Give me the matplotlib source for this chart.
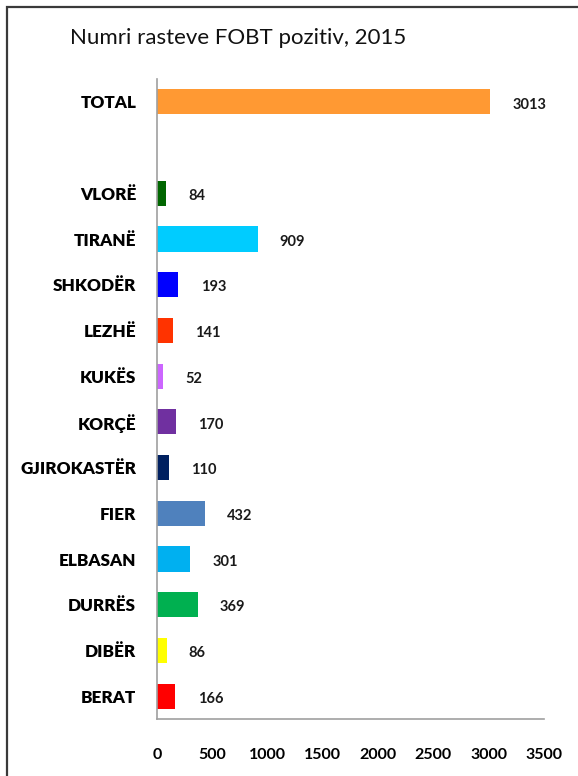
import matplotlib.pyplot as plt
from matplotlib.patches import Rectangle

plt.rcParams['font.family'] = ['Lato', 'DejaVu Sans']

# FOBT positive cases by region, 2015 (listed top to bottom)
regions = ['VLORË', 'TIRANË', 'SHKODËR', 'LEZHË', 'KUKËS', 'KORÇË',
           'GJIROKASTËR', 'FIER', 'ELBASAN', 'DURRËS', 'DIBËR', 'BERAT']
cases = [84, 909, 193, 141, 52, 170, 110, 432, 301, 369, 86, 166]
colors = ['#006600', '#00CCFF', '#0000FF', '#FF3300', '#CC66FF', '#7030A0',
          '#002060', '#4F81BD', '#00B0F0', '#00B050', '#FFFF00', '#FF0000']
total_label = 'TOTAL'
total_cases = 3013
total_color = '#FF9933'

xticks = [0, 500, 1000, 1500, 2000, 2500, 3000, 3500]

fig = plt.figure(figsize=(5.78, 7.76), dpi=100)
ax = fig.add_axes([157 / 578, 1 - 719 / 776, 387 / 578, 640 / 776])

n = len(regions)
# regions fill slots 0..n-1 from the bottom, one empty slot, then TOTAL
ypos = [n - 1 - i for i in range(n)]
ytotal = n + 1

labels = regions + [total_label]
values = cases + [total_cases]
ys = ypos + [ytotal]
cols = colors + [total_color]

ax.barh(ys, values, height=0.55, color=cols)

for y, v in zip(ys, values):
    ax.annotate(str(v), (v, y), xytext=(16, -2), textcoords='offset points',
                ha='left', va='center', fontsize=10.5, fontweight='bold',
                color='#1a1a1a')

ax.set_xlim(0, 3500)
ax.set_ylim(-0.5, ytotal + 0.5)
ax.set_yticks(ys)
ax.set_yticklabels(labels, fontsize=12.3, fontweight='heavy')
ax.set_xticks(xticks)
ax.set_xticklabels([str(t) for t in xticks], fontsize=11.5, fontweight='bold')
ax.tick_params(axis='y', length=0, pad=15)
ax.tick_params(axis='x', length=0, pad=21)

for side in ['top', 'right']:
    ax.spines[side].set_visible(False)
for side in ['left', 'bottom']:
    ax.spines[side].set_color('#A0A0A0')
    ax.spines[side].set_linewidth(1.2)

fig.text(70 / 578, 1 - 38 / 776, 'Numri rasteve FOBT pozitiv, 2015',
         fontsize=16, ha='left', va='center', color='#111111')

# outer frame, open on the right and bottom
fig.add_artist(Rectangle((7 / 578, -0.1), 1.2, 1.1 - 7 / 776,
                         transform=fig.transFigure, fill=False,
                         edgecolor='#3a3a3a', linewidth=1.6))

fig.savefig('out.png', dpi=100)
